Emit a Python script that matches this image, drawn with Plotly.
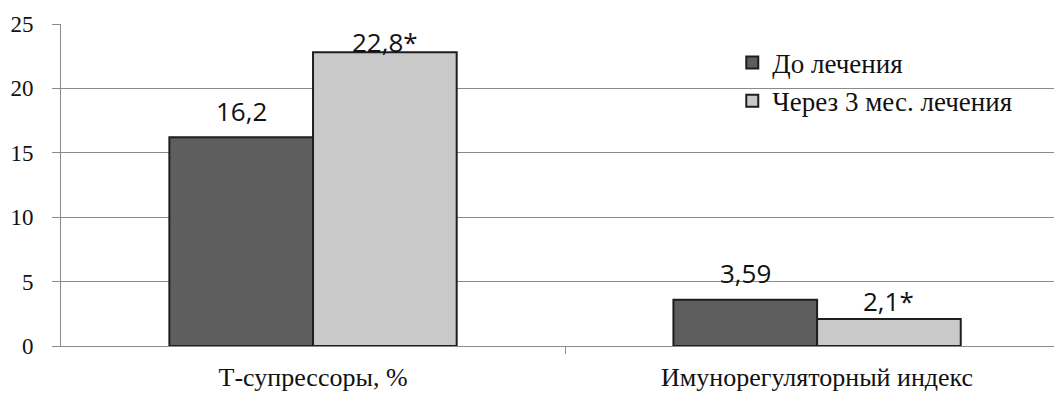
import plotly.graph_objects as go

categories = ["Т-супрессоры, %", "Имунорегуляторный индекс"]
series_names = ["До лечения", "Через 3 мес. лечения"]
before = [16.2, 3.59]
after = [22.8, 2.1]
before_labels = ["16,2", "3,59"]
after_labels = ["22,8*", "2,1*"]
y_ticks = [0, 5, 10, 15, 20, 25]

# styles
colors = ["#5e5e5e", "#c9c9c9"]
label_shift_before = [26, 27]
label_shift_after = [10, 18]
bar_offset = 0.1425

xpos = list(range(len(categories)))

fig = go.Figure()
fig.add_trace(go.Bar(x=xpos, y=before, name=series_names[0],
                     marker=dict(color=colors[0], line=dict(color="#1e1e1e", width=2)),
                     legendgroup="a"))
fig.add_trace(go.Bar(x=xpos, y=after, name=series_names[1],
                     marker=dict(color=colors[1], line=dict(color="#1e1e1e", width=2)),
                     legendgroup="b"))

label_font = dict(family="Open Sans", size=26, color="#111")
for i, x in enumerate(xpos):
    fig.add_annotation(x=x - bar_offset, y=before[i], text=before_labels[i], showarrow=False,
                       yanchor="middle", yshift=label_shift_before[i], font=label_font)
    fig.add_annotation(x=x + bar_offset, y=after[i], text=after_labels[i], showarrow=False,
                       yanchor="middle", yshift=label_shift_after[i], font=label_font)

serif = "Liberation Serif"
fig.update_layout(
    width=1054, height=394,
    margin=dict(l=61, r=0, t=24, b=48),
    paper_bgcolor="white", plot_bgcolor="white",
    barmode="group", bargap=0.43, bargroupgap=0,
    showlegend=True,
    legend=dict(x=0.676, y=0.955, xanchor="left", yanchor="top",
                bgcolor="rgba(0,0,0,0)", font=dict(family=serif, size=27, color="#111"),
                traceorder="grouped", tracegroupgap=0, itemwidth=30),
    xaxis=dict(range=[-0.5, 1.47], tickvals=xpos, ticktext=categories,
               showgrid=False, zeroline=False, showline=True, linecolor="#8a8a8a", linewidth=1,
               tickfont=dict(family=serif, size=26, color="#111"), ticks="",
               ticklabelstandoff=8,
               minor=dict(tickvals=[0.5], ticks="outside", ticklen=7, tickcolor="#8a8a8a")),
    yaxis=dict(range=[0, 25], tickvals=y_ticks, showgrid=True, gridcolor="#8a8a8a", gridwidth=1,
               zeroline=False, showline=True, linecolor="#8a8a8a", linewidth=1,
               ticks="outside", ticklen=8, tickcolor="#8a8a8a", ticklabelstandoff=14,
               tickfont=dict(family=serif, size=23, color="#111")),
)

fig.write_html("out.html")
